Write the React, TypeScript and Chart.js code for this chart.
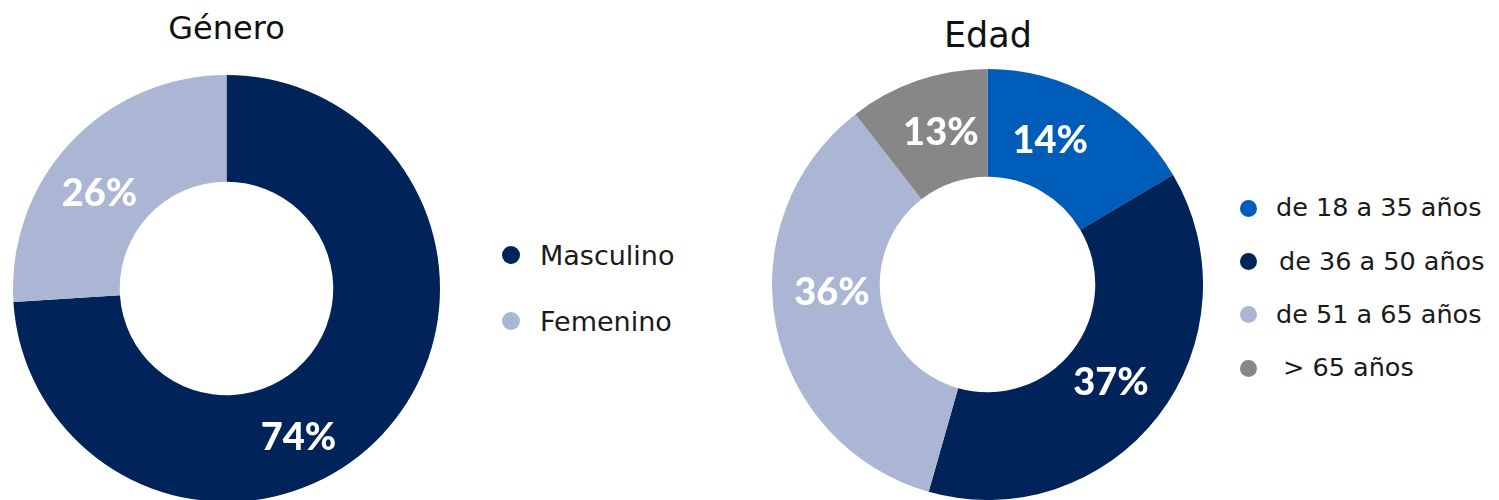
import React, { useEffect, useRef } from "react";
import { Chart, registerables } from "chart.js";

Chart.register(...registerables);

// ---- data ----
const genderTitle = "Género";
const genderCategories = ["Masculino", "Femenino"];
const genderValues = [74, 26];
const genderLabels = ["74%", "26%"];

const ageTitle = "Edad";
const ageCategories = ["de 18 a 35 años", "de 36 a 50 años", "de 51 a 65 años", "> 65 años"];
// slice sizes as drawn in the picture
const ageValues = [16.5, 37.9, 35.1, 10.5];
const ageLabels = ["14%", "37%", "36%", "13%"];

// ---- styles ----
const NAVY = "#00235A";
const LIGHT = "#AAB6D3";
const BLUE = "#005CB9";
const GRAY = "#878787";
const genderColors = [NAVY, LIGHT];
const ageColors = [BLUE, NAVY, LIGHT, GRAY];

const genderLabelShift = [20.8, -6];
const genderLabelRadius = [164, 159.5];
const ageLabelShift = [-6.4, 0.4, 8.4, 2];
const ageLabelRadius = [158.4, 156.7, 155.7, 160.4];
const genderIndent = [0, 0];
const ageIndent = [0, 3, 0, 7];

const LABEL_FONT_SIZE = 38;

function makeLabelPlugin(labels: string[], shifts: number[], radii: number[]) {
  return {
    id: "pctLabels",
    afterDatasetsDraw(chart: any) {
      const ctx = chart.ctx;
      const meta = chart.getDatasetMeta(0);
      ctx.save();
      ctx.fillStyle = "#ffffff";
      ctx.font = `900 ${LABEL_FONT_SIZE}px Lato`;
      ctx.textAlign = "center";
      ctx.textBaseline = "alphabetic";
      meta.data.forEach((arc: any, i: number) => {
        const p = arc.getProps(["x", "y", "startAngle", "endAngle"], true);
        const mid = (p.startAngle + p.endAngle) / 2 + (shifts[i] * Math.PI) / 180;
        const r = radii[i];
        const x = p.x + r * Math.cos(mid);
        const y = p.y + r * Math.sin(mid) + LABEL_FONT_SIZE * 0.36;
        ctx.fillText(labels[i], x, y);
      });
      ctx.restore();
    },
  };
}

function Doughnut(props: {
  values: number[];
  colors: string[];
  categories: string[];
  labels: string[];
  shifts: number[];
  radii: number[];
  left: number;
  top: number;
  size: number;
}) {
  const ref = useRef<HTMLCanvasElement | null>(null);
  useEffect(() => {
    if (!ref.current) return;
    const chart = new Chart(ref.current, {
      type: "doughnut",
      data: {
        labels: props.categories,
        datasets: [
          {
            data: props.values,
            backgroundColor: props.colors,
            borderWidth: 0,
            hoverOffset: 0,
            offset: 0,
          },
        ],
      },
      options: {
        responsive: false,
        maintainAspectRatio: false,
        animation: false,
        events: [],
        cutout: "50%",
        layout: { padding: 0 },
        plugins: {
          legend: { display: false },
          title: { display: false },
          tooltip: { enabled: false },
        },
      },
      plugins: [makeLabelPlugin(props.labels, props.shifts, props.radii)],
    } as any);
    return () => chart.destroy();
  }, []);
  return (
    <canvas
      ref={ref}
      width={props.size}
      height={props.size}
      style={{ position: "absolute", left: props.left, top: props.top, width: props.size, height: props.size }}
    />
  );
}

function Legend(props: {
  items: string[];
  colors: string[];
  indents: number[];
  dotX: number;
  textX: number;
  firstBaseline: number;
  step: number;
  fontSize: number;
  capRef: number;
  dot: number;
}) {
  const capMid = props.capRef * 0.73 * 0.5;
  return (
    <>
      {props.items.map((it, i) => {
        const baseline = props.firstBaseline + i * props.step;
        const top = baseline - props.fontSize * 0.846;
        return (
          <React.Fragment key={it}>
            <div
              style={{
                position: "absolute",
                left: props.dotX - props.dot / 2,
                top: baseline - capMid - props.dot / 2,
                width: props.dot,
                height: props.dot,
                borderRadius: "50%",
                background: props.colors[i],
              }}
            />
            <div
              style={{
                position: "absolute",
                left: props.textX + props.indents[i],
                top,
                fontFamily: "'DejaVu Sans'",
                fontSize: props.fontSize,
                lineHeight: `${props.fontSize}px`,
                color: "#1a1a1a",
                whiteSpace: "pre",
              }}
            >
              {it}
            </div>
          </React.Fragment>
        );
      })}
    </>
  );
}

function Title(props: { text: string; cx: number; baseline: number; fontSize: number }) {
  return (
    <div
      style={{
        position: "absolute",
        left: props.cx - 150,
        width: 300,
        textAlign: "center",
        top: props.baseline - props.fontSize * 0.846,
        fontFamily: "'DejaVu Sans'",
        fontSize: props.fontSize,
        lineHeight: `${props.fontSize}px`,
        color: "#111",
      }}
    >
      {props.text}
    </div>
  );
}

export default function App() {
  return (
    <div
      style={{
        position: "absolute",
        left: 0,
        top: 0,
        width: 1499,
        height: 500,
        overflow: "hidden",
        background: "#ffffff",
      }}
    >
      <Title text={genderTitle} cx={226.5} baseline={39} fontSize={32} />
      <Doughnut
        values={genderValues}
        colors={genderColors}
        categories={genderCategories}
        labels={genderLabels}
        shifts={genderLabelShift}
        radii={genderLabelRadius}
        left={13}
        top={75}
        size={427}
      />
      <Legend
        items={genderCategories}
        colors={genderColors}
        indents={genderIndent}
        dotX={511}
        textX={540}
        firstBaseline={265}
        step={66}
        fontSize={27}
        capRef={27}
        dot={18}
      />

      <Title text={ageTitle} cx={988} baseline={47.7} fontSize={35} />
      <Doughnut
        values={ageValues}
        colors={ageColors}
        categories={ageCategories}
        labels={ageLabels}
        shifts={ageLabelShift}
        radii={ageLabelRadius}
        left={772}
        top={69}
        size={431}
      />
      <Legend
        items={ageCategories}
        colors={ageColors}
        indents={ageIndent}
        dotX={1248}
        textX={1276}
        firstBaseline={217}
        step={53.3}
        fontSize={25.5}
        capRef={24}
        dot={17}
      />
    </div>
  );
}
